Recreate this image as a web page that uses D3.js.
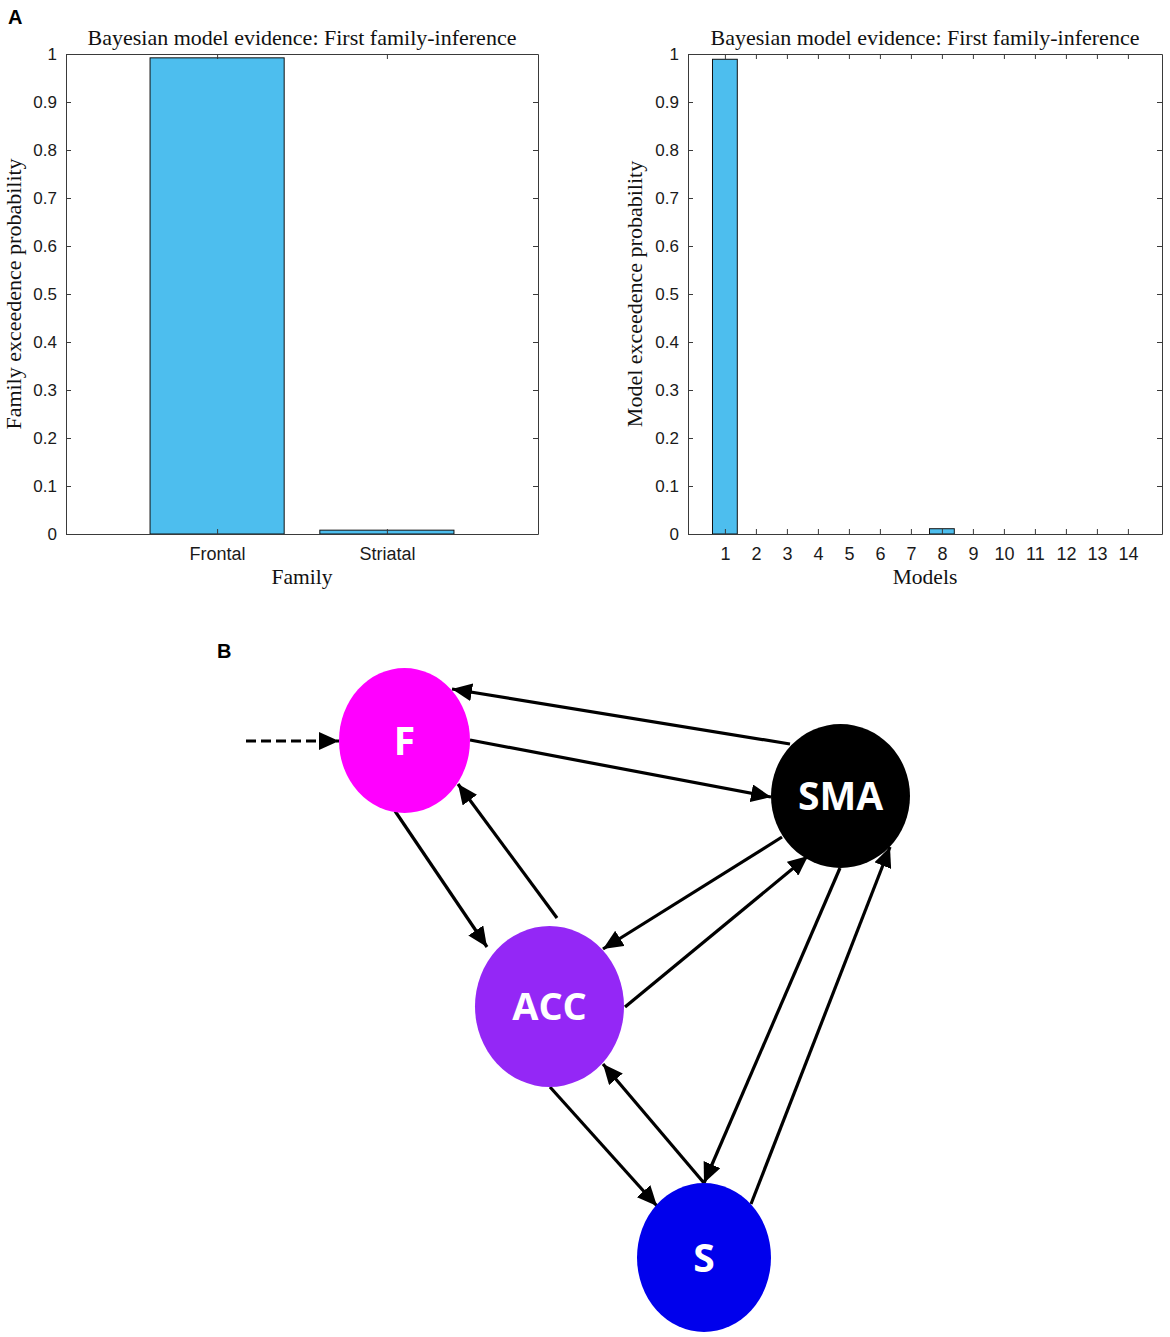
<!DOCTYPE html>
<html><head><meta charset="utf-8">
<script src="https://cdn.jsdelivr.net/npm/d3@7"></script>
<style>body{margin:0;background:#fff} svg{display:block;background:#fff}</style>
</head><body><svg id="fig" width="1170" height="1337"></svg>
<script>
// ---------- data ----------
const familyCategories = ["Frontal", "Striatal"];
const familyValues = [0.992, 0.008];
const modelCategories = [1,2,3,4,5,6,7,8,9,10,11,12,13,14];
const modelValues = [0.989, 0, 0, 0, 0, 0, 0, 0.011, 0, 0, 0, 0, 0, 0];
const yTickValues = [0, 0.1, 0.2, 0.3, 0.4, 0.5, 0.6, 0.7, 0.8, 0.9, 1];
const yTickLabels = ["0","0.1","0.2","0.3","0.4","0.5","0.6","0.7","0.8","0.9","1"];
const chartTitles = ["Bayesian model evidence: First family-inference", "Bayesian model evidence: First family-inference"];
const xAxisLabels = ["Family", "Models"];
const yAxisLabels = ["Family exceedence probability", "Model exceedence probability"];
const nodeNames = ["F", "SMA", "ACC", "S"];
const nodeColors = ["#FF00FF", "#000000", "#9427F6", "#0000EC"];
const edgeList = [["SMA","F"],["F","SMA"],["F","ACC"],["ACC","F"],["SMA","ACC"],["ACC","SMA"],["SMA","S"],["S","SMA"],["ACC","S"],["S","ACC"],["input","F"]];

// ---------- layout ----------
const svg = d3.select("#fig");
const axisColor = "#3a3a3a";
const sans = "'Liberation Sans', Arial, sans-serif";
const serif = "'Liberation Serif', 'Times New Roman', serif";

function barChart(o) {
  const g = svg.append("g");
  const x = d3.scaleLinear().domain(o.xDomain).range([o.left, o.right]);
  const y = d3.scaleLinear().domain([0, 1]).range([o.bottom, o.top]);
  const bw = x(o.barWidth) - x(0);

  g.selectAll("rect.bar").data(o.values).join("rect")
    .attr("class", "bar")
    .attr("x", (d, i) => x(o.positions[i]) - bw / 2)
    .attr("width", bw)
    .attr("y", d => y(d))
    .attr("height", d => y(0) - y(d))
    .attr("fill", "#4DBEEE")
    .attr("stroke", "#111")
    .attr("stroke-width", 1);

  const styleAxis = (sel, fs) => {
    sel.selectAll("path.domain").attr("stroke", axisColor).attr("stroke-width", 1);
    sel.selectAll(".tick line").attr("stroke", axisColor).attr("stroke-width", 1);
    sel.selectAll(".tick text").attr("fill", "#1a1a1a").attr("font-family", sans).attr("font-size", fs);
  };
  const bottom = d3.axisBottom(x).tickValues(o.positions).tickFormat((d, i) => o.labels[i])
    .tickSizeInner(-5).tickSizeOuter(0).tickPadding(13);
  g.append("g").attr("transform", `translate(0,${o.bottom})`).call(bottom).call(styleAxis, 18);
  const topAx = d3.axisTop(x).tickValues(o.positions).tickFormat("").tickSizeInner(-5).tickSizeOuter(0);
  g.append("g").attr("transform", `translate(0,${o.top})`).call(topAx).call(styleAxis, 17);
  const leftAx = d3.axisLeft(y).tickValues(yTickValues).tickFormat((d, i) => yTickLabels[i])
    .tickSizeInner(-5).tickSizeOuter(0).tickPadding(9);
  g.append("g").attr("transform", `translate(${o.left},0)`).call(leftAx).call(styleAxis, 17);
  const rightAx = d3.axisRight(y).tickValues(yTickValues).tickFormat("").tickSizeInner(-5).tickSizeOuter(0);
  g.append("g").attr("transform", `translate(${o.right},0)`).call(rightAx).call(styleAxis, 17);

  g.append("text").attr("x", (o.left + o.right) / 2).attr("y", o.top - 9)
    .attr("text-anchor", "middle").attr("font-family", serif).attr("font-size", 22)
    .attr("fill", "#111").text(o.title);
  g.append("text").attr("x", (o.left + o.right) / 2).attr("y", o.bottom + 50)
    .attr("text-anchor", "middle").attr("font-family", serif).attr("font-size", 21.5)
    .attr("fill", "#111").text(o.xLabel);
  g.append("text").attr("transform", `translate(${o.yLabelX},${(o.top + o.bottom) / 2}) rotate(-90)`)
    .attr("text-anchor", "middle").attr("font-family", serif).attr("font-size", 22)
    .attr("fill", "#111").text(o.yLabel);
}

barChart({
  left: 66, right: 538, top: 54, bottom: 534,
  xDomain: [0.11, 2.89], positions: [1, 2], labels: familyCategories, values: familyValues,
  barWidth: 0.79, title: chartTitles[0], xLabel: xAxisLabels[0], yLabel: yAxisLabels[0], yLabelX: 21
});
barChart({
  left: 688, right: 1162, top: 54, bottom: 534,
  xDomain: [-0.19, 15.1], positions: modelCategories, labels: modelCategories.map(String), values: modelValues,
  barWidth: 0.8, title: chartTitles[1], xLabel: xAxisLabels[1], yLabel: yAxisLabels[1], yLabelX: 642
});

// panel letters
svg.append("text").attr("x", 8).attr("y", 24).attr("font-family", sans).attr("font-weight", "bold")
  .attr("font-size", 20).text("A");
svg.append("text").attr("x", 217).attr("y", 658).attr("font-family", sans).attr("font-weight", "bold")
  .attr("font-size", 20).text("B");

// ---------- panel B diagram ----------
const nodeGeom = {
  F:   {cx: 404.5, cy: 740.5, rx: 65.5, ry: 72.5, fs: 39},
  SMA: {cx: 840.5, cy: 796,   rx: 69.5, ry: 72,   fs: 39},
  ACC: {cx: 549.5, cy: 1006.5, rx: 74.5, ry: 80.5, fs: 38},
  S:   {cx: 704,   cy: 1257.5, rx: 67,   ry: 74.5, fs: 39}
};
const edgeGeom = {
  "SMA-F":   [790, 744, 452, 689],
  "F-SMA":   [470, 740, 771, 797],
  "F-ACC":   [395, 811, 487, 947],
  "ACC-F":   [557, 918, 458, 784],
  "SMA-ACC": [782, 837, 603, 949],
  "ACC-SMA": [625, 1007, 808, 856],
  "SMA-S":   [840, 868, 704, 1183],
  "S-SMA":   [751, 1204, 890, 847],
  "ACC-S":   [550, 1087, 657, 1206],
  "S-ACC":   [704, 1183, 603, 1064],
  "input-F": [246, 741, 339, 741]
};

const defs = svg.append("defs");
defs.append("marker").attr("id", "head")
  .attr("viewBox", "0 0 20 18").attr("refX", 20).attr("refY", 9)
  .attr("markerWidth", 20).attr("markerHeight", 18)
  .attr("markerUnits", "userSpaceOnUse").attr("orient", "auto")
  .append("path").attr("d", "M0,0 L20,9 L0,18 Z").attr("fill", "#000");

const dg = svg.append("g");
dg.selectAll("line.edge").data(edgeList).join("line")
  .attr("class", "edge")
  .attr("x1", d => edgeGeom[d.join("-")][0])
  .attr("y1", d => edgeGeom[d.join("-")][1])
  .attr("x2", d => edgeGeom[d.join("-")][2])
  .attr("y2", d => edgeGeom[d.join("-")][3])
  .attr("stroke", "#000").attr("stroke-width", 3.2)
  .attr("stroke-dasharray", d => d[0] === "input" ? "10,5" : null)
  .attr("marker-end", "url(#head)");

const ng = dg.selectAll("g.node").data(nodeNames).join("g").attr("class", "node");
ng.append("ellipse")
  .attr("cx", d => nodeGeom[d].cx).attr("cy", d => nodeGeom[d].cy)
  .attr("rx", d => nodeGeom[d].rx).attr("ry", d => nodeGeom[d].ry)
  .attr("fill", (d, i) => nodeColors[i]);
ng.append("text")
  .attr("x", d => nodeGeom[d].cx).attr("y", d => nodeGeom[d].cy)
  .attr("dy", "0.36em").attr("text-anchor", "middle")
  .attr("font-family", "'Open Sans', 'Noto Sans', sans-serif").attr("font-weight", 700)
  .attr("font-size", d => nodeGeom[d].fs).attr("fill", "#fff").text(d => d);
</script>
</body></html>
